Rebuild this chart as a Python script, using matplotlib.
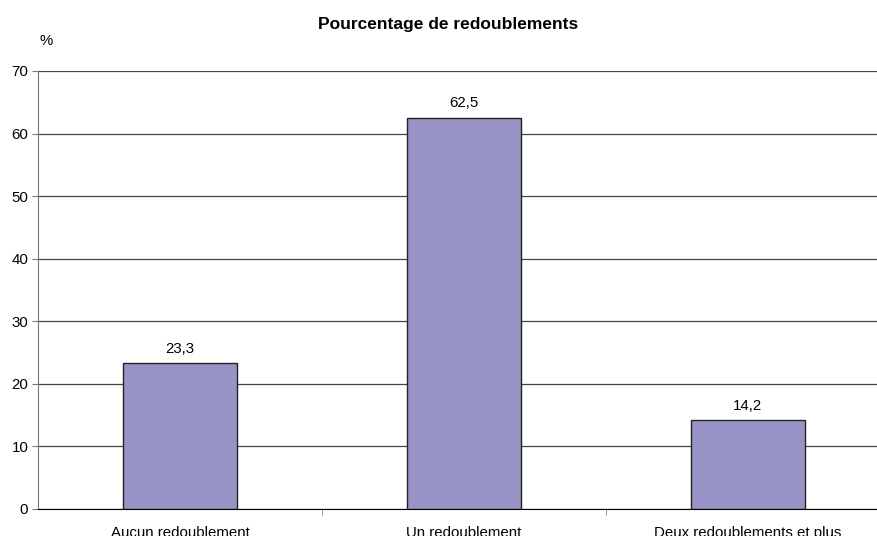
import numpy as np
import matplotlib.pyplot as plt

plt.rcParams['font.family'] = ['Liberation Sans', 'DejaVu Sans']

categories = ['Aucun redoublement', 'Un redoublement', 'Deux redoublements et plus']
values = [23.3, 62.5, 14.2]
labels = ['23,3', '62,5', '14,2']

fig = plt.figure(figsize=(8.77, 5.36), dpi=100)
ax = fig.add_axes([38 / 877, 1 - 509 / 536, 852 / 877, (509 - 71) / 536])

x = np.arange(len(categories))
ax.bar(x, values, width=0.4, color='#9894c8', edgecolor='#222222', linewidth=1, zorder=3)
for xi, v, lab in zip(x, values, labels):
    ax.text(xi, v + 1.2, lab, ha='center', va='bottom', fontsize=10.8)

ax.set_xlim(-0.5, 2.5)
ax.set_ylim(0, 70)
ax.set_yticks(range(0, 71, 10))
ax.yaxis.grid(True, color='#444444', linewidth=0.9, zorder=0)
ax.set_axisbelow(True)

ax.set_xticks(x)
ax.set_xticklabels(categories, fontsize=10.8)
ax.set_xticks([0.5, 1.5], minor=True)
ax.tick_params(axis='x', which='major', length=0, pad=12)
ax.tick_params(axis='x', which='minor', length=4, color='#888888')
ax.tick_params(axis='y', length=4, color='#777777', labelsize=10.8, pad=3)

for s in ['top', 'right']:
    ax.spines[s].set_visible(False)
ax.spines['left'].set_color('#777777')
ax.spines['bottom'].set_color('black')

fig.text(46 / 877, 1 - 41 / 536, '%', fontsize=10.8, ha='center', va='center')
fig.text(448 / 877, 1 - 25 / 536, 'Pourcentage de redoublements', fontsize=12.5,
         fontweight='bold', ha='center', va='center')

fig.savefig('out.png', dpi=100)
